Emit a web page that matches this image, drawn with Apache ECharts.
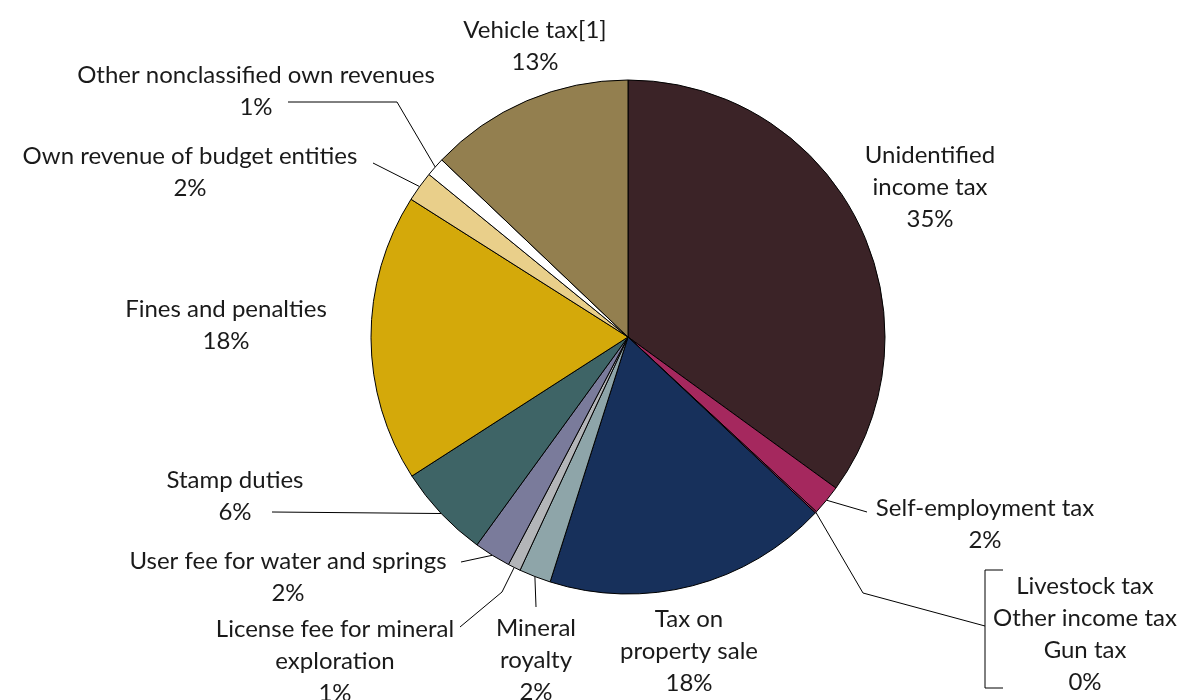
<!DOCTYPE html>
<html>
<head>
<meta charset="utf-8">
<script src="https://cdn.jsdelivr.net/npm/echarts@6/dist/echarts.min.js"></script>
<style>
  html, body { margin: 0; padding: 0; background: #fff; }
  #chart { width: 1187px; height: 700px; }
</style>
</head>
<body>
<div id="chart"></div>
<script>
// slice names, clockwise from 12 o'clock
const names = [
  'Unidentified\nincome tax',
  'Self-employment tax',
  'Livestock tax\nOther income tax\nGun tax',
  'Tax on\nproperty sale',
  'Mineral\nroyalty',
  'License fee for mineral\nexploration',
  'User fee for water and springs',
  'Stamp duties',
  'Fines and penalties',
  'Own revenue of budget entities',
  'Other nonclassified own revenues',
  'Vehicle tax[1]'
]
// share of revenue, %
const values = [35.0, 1.9, 0.1, 17.9, 2.0, 0.8, 2.3, 5.9, 18.1, 1.9, 1.2, 12.9]
const colors = [
  '#3b2327', '#a5285e', '#a5285e', '#17305b', '#8ea5a9', '#b3b5b8',
  '#7a7b9b', '#3e6466', '#d4a90a', '#e9cf8a', '#ffffff', '#937f4f'
]
const hasLine = [false, true, true, false, true, true, true, true, false, true, true, false]

// label centres and leader bends (layout only)
const labelPos = [
  [930, 187], [985, 524], [1085, 634], [689, 651], [536, 660], [335, 661],
  [288, 577], [235, 496], [226, 325], [190, 172], [256, 91], [535, 46]
]
const linePath = [
  null,
  [[867, 512]],
  [[863, 593], [985, 626]],
  null,
  [[536, 607]],
  [[502, 592], [460, 627]],
  [[461, 562]],
  [[272, 512]],
  null,
  [[373, 163]],
  [[397, 102], [288, 102]],
  null
]

const chart = echarts.init(document.getElementById('chart'))

const data = values.map((v, i) => ({
  name: names[i],
  value: v,
  itemStyle: { color: colors[i] },
  labelLine: { show: hasLine[i] }
}))

const option = {
  animation: false,
  series: [
    {
      type: 'pie',
      center: [628, 337],
      radius: 257,
      startAngle: 90,
      clockwise: true,
      avoidLabelOverlap: false,
      itemStyle: { borderColor: '#000', borderWidth: 1 },
      label: {
        show: true,
        position: 'outside',
        color: '#1a1a1a',
        fontFamily: 'Lato',
        fontSize: 24,
        lineHeight: 32,
        formatter: (p) => p.name + '\n' + Math.round(p.value) + '%'
      },
      labelLine: {
        show: true,
        length: 20,
        length2: 20,
        lineStyle: { color: '#000', width: 1 }
      },
      labelLayout: (p) => {
        const i = p.dataIndex
        const res = {
          x: labelPos[i][0],
          y: labelPos[i][1],
          align: 'center',
          verticalAlign: 'middle'
        }
        if (hasLine[i] && p.labelLinePoints) {
          res.labelLinePoints = [p.labelLinePoints[0]].concat(linePath[i])
        }
        return res
      },
      data: data
    }
  ],
  graphic: [
    {
      // bracket grouping the three zero-share taxes
      type: 'polyline',
      shape: { points: [[1003, 570], [985, 570], [985, 688], [1003, 688]] },
      style: { stroke: '#000', lineWidth: 1, fill: null }
    }
  ]
}

chart.setOption(option)
</script>
</body>
</html>
